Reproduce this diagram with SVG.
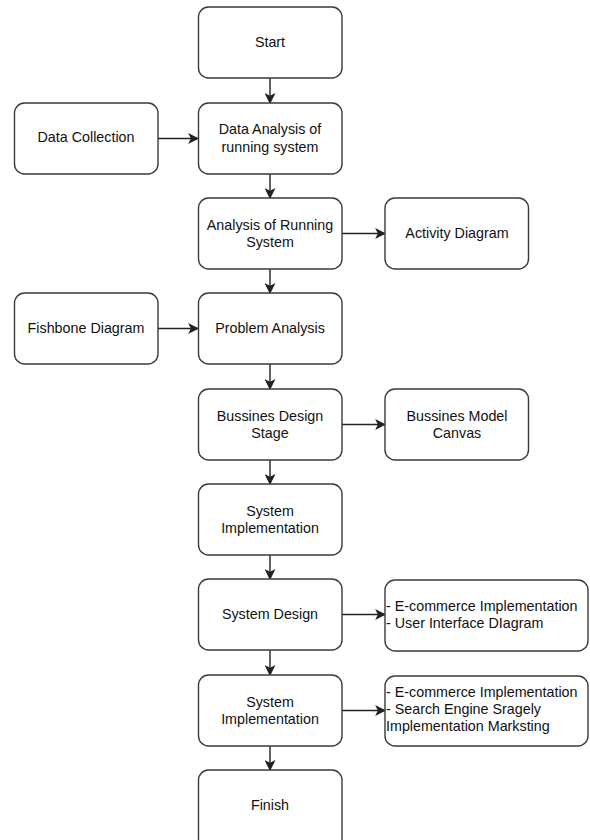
<svg xmlns="http://www.w3.org/2000/svg" width="590" height="840" viewBox="0 0 590 840">
<defs>
<style>
.box{fill:#ffffff;stroke:#3a3a3a;stroke-width:1.4}
.t{font-family:"Liberation Sans",Arial,sans-serif;font-size:14.3px;fill:#111111;text-anchor:middle;dominant-baseline:central}
.tl{font-family:"Liberation Sans",Arial,sans-serif;font-size:14.3px;fill:#111111;text-anchor:start;dominant-baseline:central}
.c{stroke:#222222;stroke-width:1.4;fill:none;marker-end:url(#arr)}
</style>
<marker id="arr" viewBox="0 0 10 10" refX="9" refY="5" markerWidth="11" markerHeight="11" markerUnits="userSpaceOnUse" orient="auto">
<path d="M0,0 L10,5 L0,10 L2.5,5 Z" fill="#222222"/>
</marker>
</defs>
<rect width="590" height="840" fill="#ffffff"/>
<g id="connectors">
<line class="c" x1="270" y1="78" x2="270" y2="103"/>
<line class="c" x1="158" y1="138.5" x2="198" y2="138.5"/>
<line class="c" x1="270" y1="174" x2="270" y2="198"/>
<line class="c" x1="342" y1="233.5" x2="385" y2="233.5"/>
<line class="c" x1="270" y1="269" x2="270" y2="293"/>
<line class="c" x1="158" y1="328.5" x2="198" y2="328.5"/>
<line class="c" x1="270" y1="364" x2="270" y2="389"/>
<line class="c" x1="342" y1="424.5" x2="385" y2="424.5"/>
<line class="c" x1="270" y1="460" x2="270" y2="484"/>
<line class="c" x1="270" y1="555" x2="270" y2="579"/>
<line class="c" x1="342" y1="614.5" x2="385" y2="614.5"/>
<line class="c" x1="270" y1="650" x2="270" y2="675"/>
<line class="c" x1="342" y1="710.5" x2="385" y2="710.5"/>
<line class="c" x1="270" y1="746" x2="270" y2="770"/>
</g>
<g id="start"><rect class="box" x="198.5" y="7" width="143.5" height="71" rx="10"/><text class="t" x="270" y="42">Start</text></g>
<g id="data-collection"><rect class="box" x="14.5" y="103" width="143.5" height="71" rx="10"/><text class="t" x="86" y="137">Data Collection</text></g>
<g id="data-analysis"><rect class="box" x="198.5" y="103" width="143.5" height="71" rx="10"/><text class="t" x="270" y="129">Data Analysis of</text><text class="t" x="270" y="146.5">running system</text></g>
<g id="analysis-running"><rect class="box" x="198.5" y="198" width="143.5" height="71" rx="10"/><text class="t" x="270" y="224.5">Analysis of Running</text><text class="t" x="270" y="242">System</text></g>
<g id="activity-diagram"><rect class="box" x="385" y="198" width="143.5" height="71" rx="10"/><text class="t" x="457" y="233">Activity Diagram</text></g>
<g id="fishbone"><rect class="box" x="14.5" y="293" width="143.5" height="71" rx="10"/><text class="t" x="86" y="328">Fishbone Diagram</text></g>
<g id="problem-analysis"><rect class="box" x="198.5" y="293" width="143.5" height="71" rx="10"/><text class="t" x="270" y="328">Problem Analysis</text></g>
<g id="bussines-design"><rect class="box" x="198.5" y="389" width="143.5" height="71" rx="10"/><text class="t" x="270" y="415.5">Bussines Design</text><text class="t" x="270" y="433">Stage</text></g>
<g id="bussines-model"><rect class="box" x="385" y="389" width="143.5" height="71" rx="10"/><text class="t" x="457" y="415.5">Bussines Model</text><text class="t" x="457" y="433">Canvas</text></g>
<g id="system-implementation-1"><rect class="box" x="198.5" y="484" width="143.5" height="71" rx="10"/><text class="t" x="270" y="511">System</text><text class="t" x="270" y="528">Implementation</text></g>
<g id="system-design"><rect class="box" x="198.5" y="579" width="143.5" height="71" rx="10"/><text class="t" x="270" y="614">System Design</text></g>
<g id="ecommerce-ui"><rect class="box" x="385" y="580" width="203" height="71" rx="10"/><text class="tl" x="386" y="606">- E-commerce Implementation</text><text class="tl" x="386" y="623">- User Interface DIagram</text></g>
<g id="system-implementation-2"><rect class="box" x="198.5" y="675" width="143.5" height="71" rx="10"/><text class="t" x="270" y="702">System</text><text class="t" x="270" y="719">Implementation</text></g>
<g id="ecommerce-seo"><rect class="box" x="385" y="676" width="203" height="70" rx="10"/><text class="tl" x="386" y="692">- E-commerce Implementation</text><text class="tl" x="386" y="709">- Search Engine Sragely</text><text class="tl" x="386" y="726">Implementation Marksting</text></g>
<g id="finish"><rect class="box" x="198.5" y="770" width="143.5" height="80" rx="10"/><text class="t" x="270" y="805">Finish</text></g>
</svg>
